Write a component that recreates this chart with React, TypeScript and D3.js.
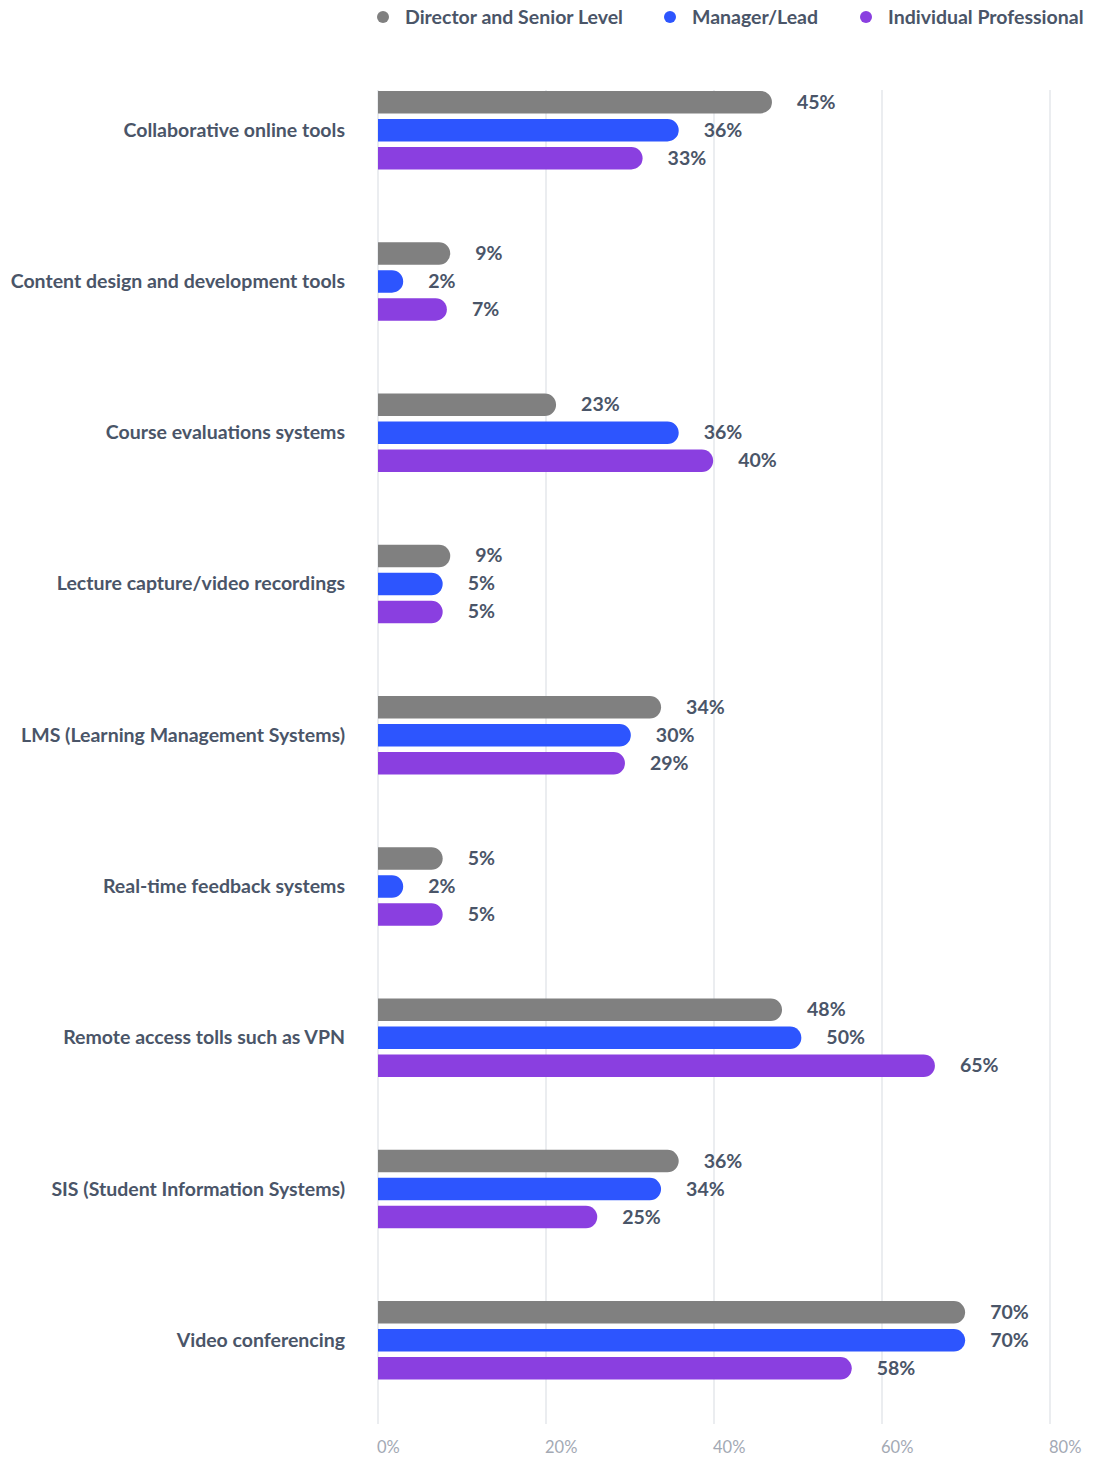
import React from "react";
import * as d3 from "d3";

const categories = [
  "Collaborative online tools",
  "Content design and development tools",
  "Course evaluations systems",
  "Lecture capture/video recordings",
  "LMS (Learning Management Systems)",
  "Real-time feedback systems",
  "Remote access tolls such as VPN",
  "SIS (Student Information Systems)",
  "Video conferencing",
];

const seriesNames = ["Director and Senior Level", "Manager/Lead", "Individual Professional"];
const seriesColors = ["#808080", "#2d55fe", "#8a3fe0"];

// bar lengths as drawn (percent)
const directorValues = [46.9, 8.6, 21.2, 8.6, 33.7, 7.7, 48.1, 35.8, 69.9];
const managerValues = [35.8, 3.0, 35.8, 7.7, 30.1, 3.0, 50.4, 33.7, 69.9];
const individualValues = [31.5, 8.2, 39.9, 7.7, 29.4, 7.7, 66.3, 26.1, 56.4];

// value labels as printed
const directorLabels = ["45%", "9%", "23%", "9%", "34%", "5%", "48%", "36%", "70%"];
const managerLabels = ["36%", "2%", "36%", "5%", "30%", "2%", "50%", "34%", "70%"];
const individualLabels = ["33%", "7%", "40%", "5%", "29%", "5%", "65%", "25%", "58%"];

const xTicks = [0, 20, 40, 60, 80];

const W = 1093;
const H = 1457;
const FONT = "Lato, 'Open Sans', sans-serif";
const TEXT = "#4a5568";

export default function App() {
  const x = d3.scaleLinear().domain([0, 80]).range([378, 1050]);
  const y = d3.scaleBand<string>().domain(categories).range([54.5, 1416]);
  const sub = d3.scaleBand<number>().domain([0, 1, 2]).range([-39.25, 39.25]).paddingInner(0.196).paddingOuter(0);
  const values = [directorValues, managerValues, individualValues];
  const labels = [directorLabels, managerLabels, individualLabels];
  const bh = sub.bandwidth();
  const r = bh / 2;

  const barPath = (x0: number, x1: number, y0: number) => {
    const rr = Math.min(r, (x1 - x0));
    const p = d3.path();
    p.moveTo(x0, y0);
    p.lineTo(x1 - rr, y0);
    p.arcTo(x1, y0, x1, y0 + rr, rr);
    p.lineTo(x1, y0 + bh - rr);
    p.arcTo(x1, y0 + bh, x1 - rr, y0 + bh, rr);
    p.lineTo(x0, y0 + bh);
    p.closePath();
    return p.toString();
  };

  const legendX = [383, 670, 866];

  return (
    <svg width={W} height={H} style={{ display: "block", position: "absolute", left: 0, top: 0 }} fontFamily={FONT}>
      <rect width={W} height={H} fill="#fff" />
      {/* legend */}
      {seriesNames.map((s, i) => (
        <g key={s}>
          <circle cx={legendX[i]} cy={17} r={6} fill={seriesColors[i]} />
          <text x={legendX[i] + 22} y={23.5} fontSize={19.5} fontWeight={700} fill={TEXT}>
            {s}
          </text>
        </g>
      ))}
      {/* grid */}
      {xTicks.map((t) => (
        <g key={t}>
          <line x1={x(t)} x2={x(t)} y1={90} y2={1424} stroke="#e5e7eb" strokeWidth={1.5} />
          <text x={x(t) - 1} y={1453} fontSize={16.5} fill="#a3a9b4">
            {t}%
          </text>
        </g>
      ))}
      {/* bars */}
      {categories.map((c, ci) => {
        const cy = (y(c) as number) + y.bandwidth() / 2;
        return (
          <g key={c}>
            <text x={345} y={cy + 6.5} textAnchor="end" fontSize={19.5} fontWeight={700} fill={TEXT}>
              {c}
            </text>
            {values.map((vals, si) => {
              const y0 = cy + (sub(si) as number);
              const x1 = x(vals[ci]);
              return (
                <g key={si}>
                  <path d={barPath(x(0), x1, y0)} fill={seriesColors[si]} />
                  <text x={x1 + 25} y={y0 + bh / 2 + 6.5} fontSize={19.5} fontWeight={700} fill={TEXT}>
                    {labels[si][ci]}
                  </text>
                </g>
              );
            })}
          </g>
        );
      })}
    </svg>
  );
}
